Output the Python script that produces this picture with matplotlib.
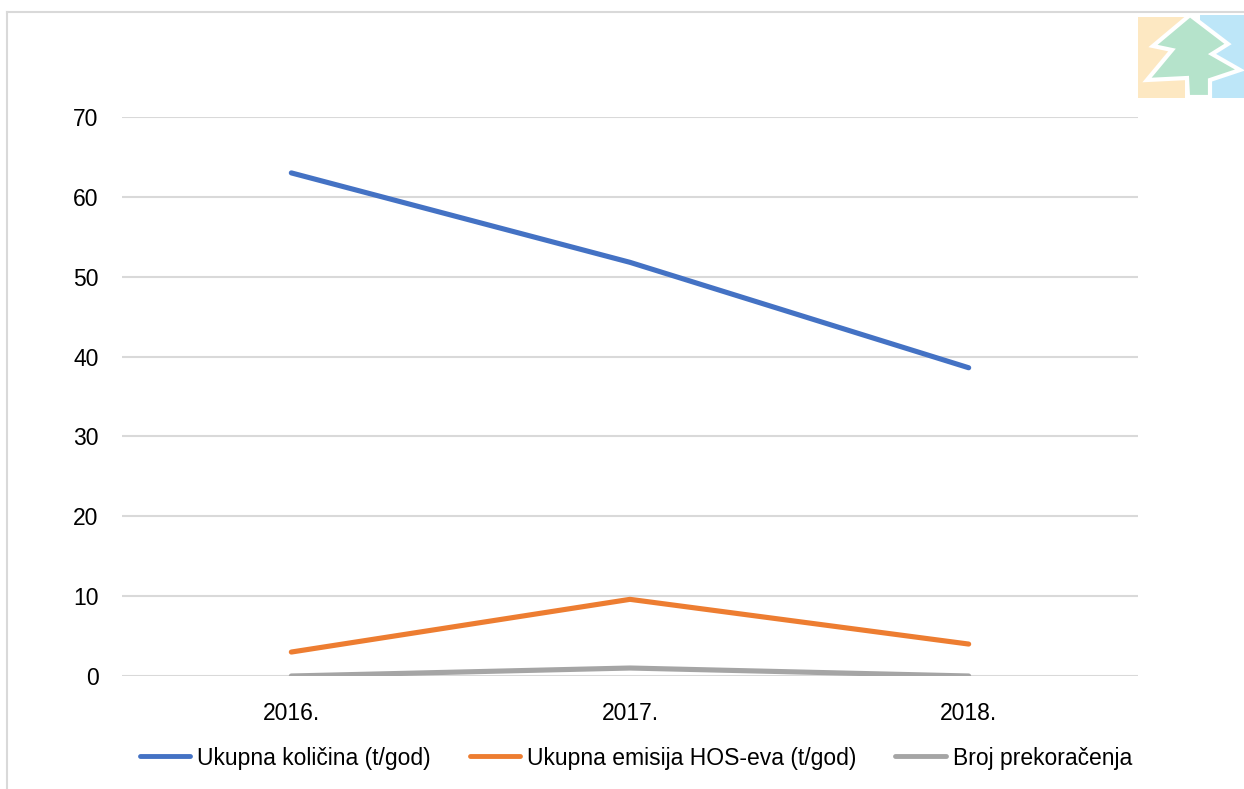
import matplotlib
matplotlib.use("Agg")
import matplotlib.pyplot as plt
from matplotlib.patches import Rectangle, Polygon
from matplotlib.lines import Line2D

plt.rcParams['font.family'] = ['Liberation Sans', 'DejaVu Sans']

years = ["2016.", "2017.", "2018."]
ukupna_kolicina = [63.0, 51.8, 38.6]
ukupna_emisija = [3.0, 9.6, 4.0]
broj_prekoracenja = [0, 1, 0]

series_labels = ["Ukupna količina (t/god)", "Ukupna emisija HOS-eva (t/god)", "Broj prekoračenja"]
colors = ["#4472C4", "#ED7D31", "#A5A5A5"]

W, H = 1244, 789
fig = plt.figure(figsize=(W / 100, H / 100), dpi=100)
ax = fig.add_axes([122 / W, 1 - 676 / H, (1138 - 122) / W, (676 - 117) / H])

x = list(range(len(years)))
for vals, lab, c in zip([ukupna_kolicina, ukupna_emisija, broj_prekoracenja], series_labels, colors):
    ax.plot(x, vals, color=c, lw=3.7, label=lab, solid_capstyle='round', solid_joinstyle='round', zorder=3)

ax.set_xlim(-0.5, len(years) - 0.5)
ax.set_ylim(0, 70)
ax.set_yticks(range(0, 71, 10))
ax.set_xticks(x)
ax.set_xticklabels(years)
ax.grid(axis='y', color='#d9d9d9', lw=1.5)
ax.set_axisbelow(True)
for s in ax.spines.values():
    s.set_visible(False)
ax.tick_params(axis='both', length=0, labelsize=16.5, colors='black')
ax.tick_params(axis='y', pad=17)
ax.tick_params(axis='x', pad=19)

leg = fig.legend(loc='center', bbox_to_anchor=(636 / W, 1 - 758 / H), ncol=3, frameon=False,
                 fontsize=16.5, handlelength=2.2, handletextpad=0.3, columnspacing=1.7)
for l in leg.get_lines():
    l.set_linewidth(3.5)

# figure border (top and left visible)
fig.add_artist(Line2D([7 / W, 1.0], [1 - 12 / H, 1 - 12 / H], color='#d9d9d9', lw=1.5, transform=fig.transFigure))
fig.add_artist(Line2D([7 / W, 7 / W], [1 - 12 / H, 0.0], color='#d9d9d9', lw=1.5, transform=fig.transFigure))

# logo
def px(pts):
    return [(a / W, 1 - b / H) for a, b in pts]

fig.add_artist(Rectangle((1138 / W, 1 - 98 / H), 47 / W, 81 / H, color='#fde8c2', transform=fig.transFigure, lw=0))
fig.add_artist(Rectangle((1200 / W, 1 - 98 / H), 44 / W, 83 / H, color='#bde6f8', transform=fig.transFigure, lw=0))
tree = [(1190, 15), (1153, 46), (1172, 50), (1147, 80), (1187, 78), (1188, 97), (1210, 97),
        (1210, 80), (1240, 70), (1212, 54), (1228, 44)]
fig.add_artist(Polygon(px(tree), closed=True, facecolor='#b5e3cb', edgecolor='white', lw=3,
                       transform=fig.transFigure))

fig.savefig("out.png", dpi=100, facecolor='white')
